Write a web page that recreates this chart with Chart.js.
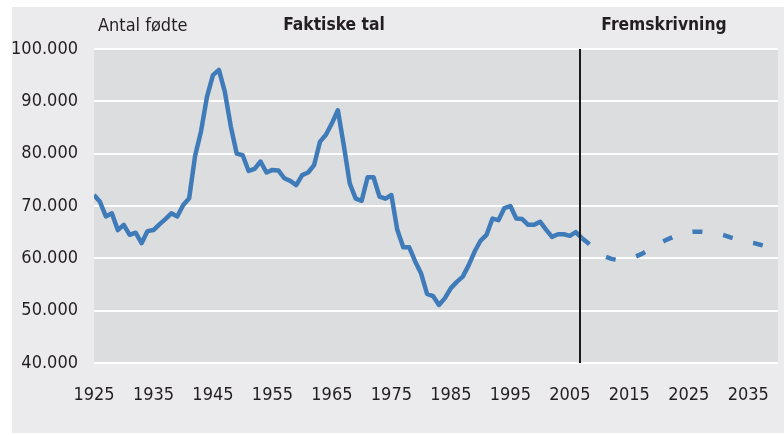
<!DOCTYPE html>
<html lang="da">
<head>
<meta charset="UTF-8">
<title>Antal fødte</title>
<script src="https://cdn.jsdelivr.net/npm/chart.js"></script>
<style>
  html, body { margin: 0; padding: 0; background: #fff; }
  #wrap { width: 784px; height: 435px; }
</style>
</head>
<body>
<div id="wrap"><canvas id="births" width="784" height="435"></canvas></div>
<script>
// faktiske tal 1925-2007
const firstYear = 1925;
const actualBirths = [
  72100, 70800, 68000, 68600, 65400, 66400, 64500, 64900, 62900, 65200,
  65400, 66500, 67500, 68600, 68000, 70200, 71500, 79600, 84300, 90900,
  95000, 96000, 91800, 85200, 80000, 79700, 76700, 77100, 78500, 76400,
  76900, 76800, 75300, 74800, 74000, 75900, 76400, 77800, 82300, 83600,
  85800, 88300, 81600, 74300, 71400, 71000, 75500, 75500, 71800, 71400,
  72100, 65400, 62100, 62100, 59400, 57100, 53200, 52800, 51100, 52400,
  54300, 55500, 56500, 58700, 61300, 63400, 64500, 67600, 67300, 69600,
  70000, 67600, 67500, 66400, 66400, 67000, 65500, 64100, 64600, 64600,
  64300, 65000, 63900
];
// fremskrivning 2007-2040
const projStart = 2007;
const projectedBirths = [
  63900, 63000, 61900, 61000, 60300, 59900, 59700, 59700, 59900, 60300,
  60800, 61400, 62100, 62800, 63400, 63900, 64400, 64800, 65000, 65100,
  65100, 65000, 64900, 64700, 64400, 64000, 63700, 63400, 63100, 62900,
  62600, 62300, 62000, 61700
];
const xTicks = [1925, 1935, 1945, 1955, 1965, 1975, 1985, 1995, 2005, 2015, 2025, 2035];
const yTicks = [40000, 50000, 60000, 70000, 80000, 90000, 100000];
const dividerYear = 2006.75;

const toPoints = (start, arr) => arr.map((v, i) => ({ x: start + i, y: v }));
const fmt = v => String(v).replace(/\B(?=(\d{3})+(?!\d))/g, '.');

const FONT = '"DejaVu Sans Condensed", "Liberation Sans Narrow", sans-serif';
const TEXT = '#231f20';
const BLUE = '#3f7bb8';

const decor = {
  id: 'decor',
  beforeDraw(chart) {
    const ctx = chart.ctx, a = chart.chartArea;
    ctx.save();
    ctx.fillStyle = '#ebebed';
    ctx.fillRect(12, 7, chart.width - 12, chart.height - 9);
    ctx.fillStyle = '#dcdddf';
    ctx.fillRect(a.left, a.top, a.right - a.left, a.bottom - a.top);
    ctx.restore();
  },
  afterDatasetsDraw(chart) {
    const ctx = chart.ctx, a = chart.chartArea;
    const x = Math.round(chart.scales.x.getPixelForValue(dividerYear));
    ctx.save();
    ctx.strokeStyle = '#1a1a1a';
    ctx.lineWidth = 2;
    ctx.beginPath();
    ctx.moveTo(x, a.top);
    ctx.lineTo(x, a.bottom);
    ctx.stroke();

    ctx.fillStyle = TEXT;
    ctx.textBaseline = 'middle';
    ctx.textAlign = 'left';
    ctx.font = '18px ' + FONT;
    ctx.fillText('Antal fødte', 98, 26);
    ctx.textAlign = 'center';
    ctx.font = 'bold 17.3px ' + FONT;
    ctx.fillText('Faktiske tal', 334, 26);
    ctx.fillText('Fremskrivning', 664, 26);
    ctx.restore();
  }
};

new Chart(document.getElementById('births'), {
  type: 'line',
  data: {
    datasets: [
      {
        label: 'Faktiske tal',
        data: toPoints(firstYear, actualBirths),
        borderColor: BLUE,
        borderWidth: 4.5,
        borderJoinStyle: 'round',
        pointRadius: 0,
        tension: 0
      },
      {
        label: 'Fremskrivning',
        data: toPoints(projStart, projectedBirths),
        borderColor: BLUE,
        borderWidth: 4.5,
        borderDash: [10, 21],
        borderCapStyle: 'butt',
        pointRadius: 0,
        tension: 0
      }
    ]
  },
  options: {
    responsive: false,
    animation: false,
    layout: { padding: { top: 49, right: 6, left: 0, bottom: 0 } },
    plugins: { legend: { display: false }, tooltip: { enabled: false } },
    scales: {
      x: {
        type: 'linear',
        min: 1925,
        max: 2040,
        afterBuildTicks: s => { s.ticks = xTicks.map(v => ({ value: v })); },
        afterFit: s => { s.height = 72; s.paddingLeft = 0; s.paddingRight = 0; },
        grid: { display: false, drawTicks: false },
        border: { display: false },
        ticks: {
          padding: 22,
          maxRotation: 0,
          autoSkip: false,
          color: TEXT,
          font: { family: FONT, size: 18 },
          callback: v => String(v)
        }
      },
      y: {
        min: 40000,
        max: 100000,
        afterBuildTicks: s => { s.ticks = yTicks.map(v => ({ value: v })); },
        afterFit: s => { s.width = 94; },
        grid: { color: '#ffffff', lineWidth: 2, drawTicks: false },
        border: { display: false },
        ticks: {
          padding: 16,
          color: TEXT,
          font: { family: FONT, size: 18 },
          callback: v => fmt(v)
        }
      }
    }
  },
  plugins: [decor]
});
</script>
</body>
</html>
